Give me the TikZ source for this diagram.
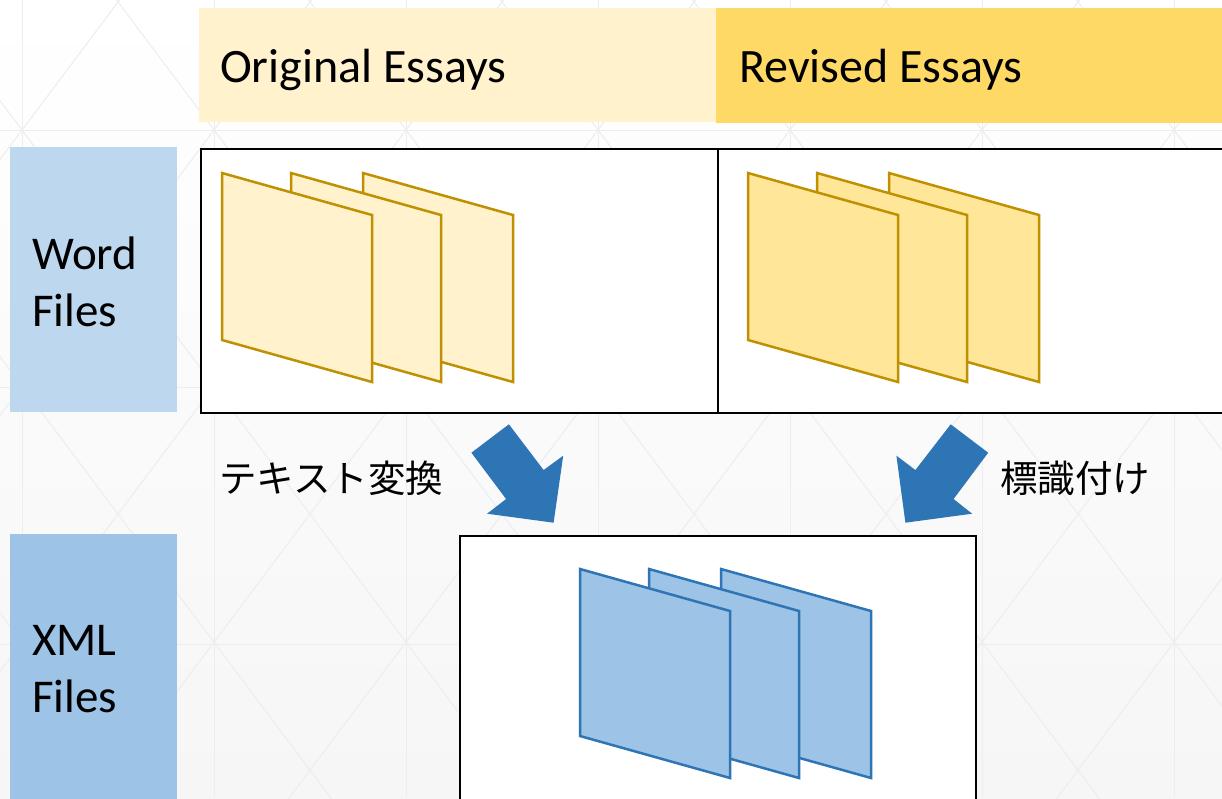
\documentclass[tikz,border=0pt]{standalone}
\usepackage{fontspec}
\setmainfont{Carlito}
\newfontfamily\cjk{Noto Sans CJK JP}
\definecolor{hdrA}{HTML}{FFF2CC}
\definecolor{hdrB}{HTML}{FFD966}
\definecolor{lblA}{HTML}{BDD7EE}
\definecolor{lblB}{HTML}{9DC3E6}
\definecolor{docA}{HTML}{FFF2CC}
\definecolor{docB}{HTML}{FFE699}
\definecolor{gold}{HTML}{BF9000}
\definecolor{blueS}{HTML}{2E75B6}
\definecolor{gridc}{HTML}{EDEDED}
\definecolor{bgbot}{HTML}{F6F6F6}
\tikzset{
  band/.style={rectangle, draw=none, inner sep=0pt, anchor=north west},
  frame/.style={rectangle, draw=black, line width=2pt, fill=white, inner sep=0pt, anchor=north west},
  bigtxt/.style={font=\fontsize{48}{57}\selectfont, inner sep=0pt, anchor=base west},
  sidetxt/.style={font=\fontsize{47}{57}\selectfont, inner sep=0pt, anchor=base west},
  jtxt/.style={font=\cjk\fontsize{37.5}{40}\selectfont, inner sep=0pt, anchor=west},
  gridline/.style={draw=gridc, line width=1pt},
  blockarrow/.style={fill=blueS, draw=none}
}
\newcommand{\onedoc}[4]{%
  \filldraw[fill=#3, draw=#4, line width=2.5pt, line join=miter]
    (#1,#2) -- ++(150,42) -- ++(0,167) -- ++(-150,-42) -- cycle;}
\begin{document}
\begin{tikzpicture}[x=1pt,y=-1pt]
\useasboundingbox (0,0) rectangle (1222,798);
% background
\shade[top color=white, bottom color=bgbot] (0,0) rectangle (1222,798);
\begin{scope}
\clip (0,0) rectangle (1222,798);
\foreach \k in {0,...,6} {
  \draw[gridline] ({22+192*\k},0) -- ({22+192*\k},798);
}
\foreach \yy in {130,387,644} {
  \draw[gridline] (0,\yy) -- (1222,\yy);
}
\foreach \k in {-5,...,10} {
  \pgfmathsetmacro{\xo}{22+192*\k}
  \draw[gridline] ({\xo-247.5},-200) -- ({\xo+652.5},1000);
  \draw[gridline] ({\xo+247.5},-200) -- ({\xo-652.5},1000);
}
\end{scope}
% headers
\node[band, fill=hdrA, minimum width=517pt, minimum height=114pt] (hOrig) at (199,8) {};
\node[band, fill=hdrB, minimum width=520pt, minimum height=115pt] (hRev) at (716,8) {};
\node[bigtxt] (tOrig) at (220,82) {Original Essays};
\node[bigtxt] (tRev) at (739,82) {Revised Essays};
% side labels
\node[band, fill=lblA, minimum width=167pt, minimum height=265pt] (lWord) at (10,147) {};
\node[band, fill=lblB, minimum width=167pt, minimum height=280pt] (lXML) at (10,534) {};
\node[sidetxt] (tWord1) at (32,269) {Word};
\node[sidetxt] (tWord2) at (32,326) {Files};
\node[sidetxt] (tXML1) at (32,655) {XML};
\node[sidetxt] (tXML2) at (32,712) {Files};
% frames
\node[frame, minimum width=517pt, minimum height=264pt] (fOrig) at (200,148) {};
\node[frame, minimum width=530pt, minimum height=264pt] (fRev) at (717,148) {};
\node[frame, minimum width=516pt, minimum height=290pt] (fXML) at (459,535) {};
% original docs
\onedoc{363}{173}{docA}{gold}
\onedoc{291}{173}{docA}{gold}
\onedoc{222}{173}{docA}{gold}
% revised docs
\onedoc{889}{173}{docB}{gold}
\onedoc{817}{173}{docB}{gold}
\onedoc{748}{173}{docB}{gold}
% xml docs
\onedoc{721}{569}{lblB}{blueS}
\onedoc{649}{569}{lblB}{blueS}
\onedoc{580}{569}{lblB}{blueS}
% block arrows
\fill[blockarrow] (471.4,452.7) -- (508.9,424.3) -- (543.6,470) -- (563.2,455.7)
  -- (553.6,522.7) -- (487.1,513.7) -- (506.1,499) -- cycle;
\fill[blockarrow] (988.2,452.7) -- (950.7,424.3) -- (915.4,470) -- (896.4,455.7)
  -- (905.4,522.7) -- (972.1,513.7) -- (953.6,499) -- cycle;
% labels
\node[jtxt] (tConv) at (219,478) {テキスト変換};
\node[jtxt] (tTag) at (1000,478) {標識付け};
\end{tikzpicture}
\end{document}
